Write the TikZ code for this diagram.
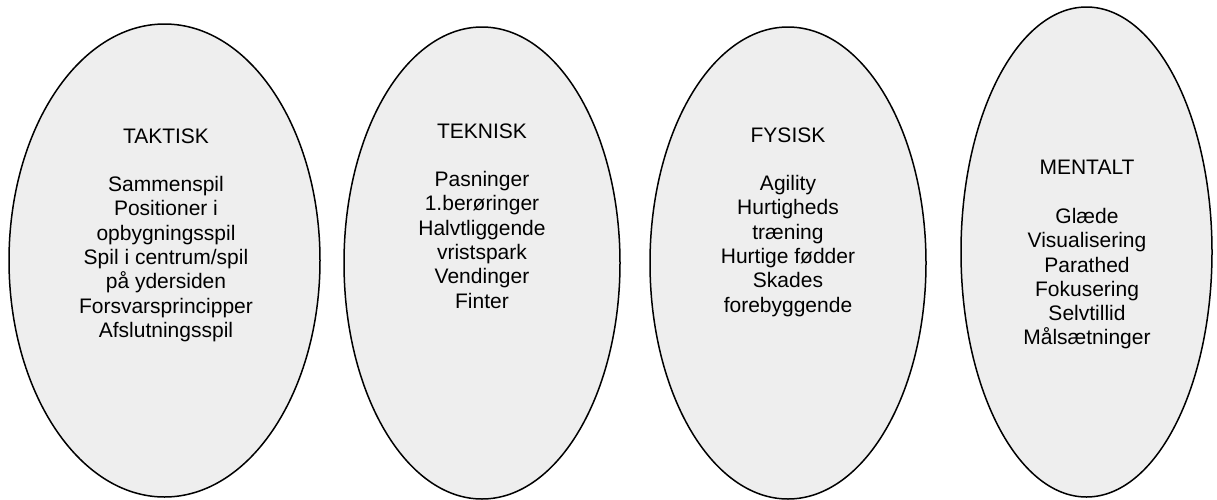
\documentclass[tikz,border=0pt]{standalone}
\usepackage{fontspec}
\setmainfont{Liberation Sans}
\usetikzlibrary{shapes.geometric}
\definecolor{ovalfill}{RGB}{238,238,238}

\begin{document}
\begin{tikzpicture}[x=0.5pt, y=-0.5pt]

\useasboundingbox (0,0) rectangle (1217,499);

\begin{scope}[every node/.style={ellipse, draw, fill=ovalfill, line width=0.75pt, inner sep=0pt}]
    \node[minimum width=155.5pt, minimum height=236.5pt] (taktisk) at (164.5,260.5) {};
    \node[minimum width=138pt, minimum height=236pt] (teknisk) at (482,263) {};
    \node[minimum width=138pt, minimum height=236pt] (fysisk) at (788,263) {};
    \node[minimum width=125.5pt, minimum height=245pt] (mentalt) at (1086.5,252) {};
\end{scope}

\begin{scope}[every node/.style={anchor=north, align=center, inner sep=0pt, font=\fontsize{10.5pt}{12.15pt}\selectfont}]
    \node (taktisktxt) at (166,128) {TAKTISK\\[12.15pt] Sammenspil\\ Positioner i\\ opbygningsspil\\ Spil i centrum/spil\\ på ydersiden\\ Forsvarsprincipper\\ Afslutningsspil};
    \node (tekniktxt) at (482,123) {TEKNISK\\[12.15pt] Pasninger\\ 1.berøringer\\ Halvtliggende\\ vristspark\\ Vendinger\\ Finter};
    \node (fysisktxt) at (788,127) {FYSISK\\[12.15pt] Agility\\ Hurtigheds\\ træning\\ Hurtige fødder\\ Skades\\ forebyggende};
    \node (mentalttxt) at (1087,160) {MENTALT\\[12.15pt] Glæde\\ Visualisering\\ Parathed\\ Fokusering\\ Selvtillid\\ Målsætninger};
\end{scope}

\end{tikzpicture}
\end{document}
